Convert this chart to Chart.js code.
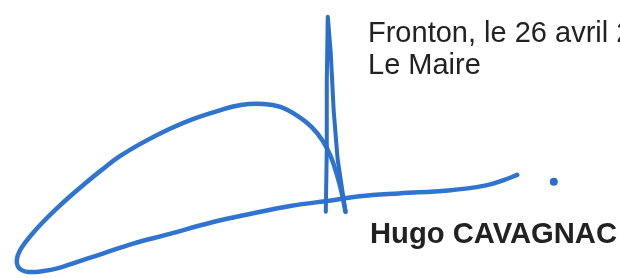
<!DOCTYPE html>
<html lang="fr">
<head>
<meta charset="utf-8">
<script src="https://cdn.jsdelivr.net/npm/chart.js@4/dist/chart.umd.min.js"></script>
<style>
  html, body { margin: 0; padding: 0; background: #fff; overflow: hidden; }
  #page { position: relative; width: 620px; height: 278px; overflow: hidden; }
  #sig { position: absolute; left: 0; top: 0; }
  .txt {
    position: absolute; left: 368px; margin: 0; white-space: nowrap;
    font-family: "Liberation Sans", Arial, sans-serif; color: #222;
    line-height: 1;
  }
  #lieu { top: 18px; font-size: 29px; }
  #titre { top: 50px; font-size: 29px; }
  #nom { top: 219px; left: 370px; font-size: 29.2px; font-weight: bold; }
</style>
</head>
<body>
<div id="page">
  <canvas id="sig" width="620" height="278"></canvas>
  <p class="txt" id="lieu"></p>
  <p class="txt" id="titre"></p>
  <p class="txt" id="nom"></p>
</div>
<script>
// textes
const lieuDate = 'Fronton, le 26 avril 2025';
const fonction = 'Le Maire';
const signataire = 'Hugo CAVAGNAC';

// trait vertical (monte puis redescend)
const jambageX = [326, 327, 327, 328, 331, 334, 338, 346];
const jambageY = [214, 150, 80, 13, 50, 110, 160, 214];

// boucle + trait de base
const boucleX = [346, 342, 337, 331, 323, 312, 297, 280, 263, 240, 217, 190, 167, 140, 117, 100, 83, 67, 53, 40, 30, 22, 16, 13, 14, 18, 25, 40, 55, 70, 85, 100, 130, 167, 210, 250, 290, 333, 360, 400, 450, 487, 507, 520];
const boucleY = [214, 194, 175, 157, 141, 127, 115, 106, 103, 104, 110, 119, 129, 143, 157, 170, 184, 198, 211, 224, 235, 245, 254, 263, 270, 274, 276, 275, 272, 267, 262, 257, 247, 237, 225, 216, 208, 202, 198, 195, 192, 187, 181, 176];

// point final
const pointX = [557];
const pointY = [183];

const bleu = '#2b6ecb';

function points(xs, ys) {
    return xs.map((x, i) => ({ x: x, y: ys[i] }));
}

document.getElementById('lieu').textContent = lieuDate;
document.getElementById('titre').textContent = fonction;
document.getElementById('nom').textContent = signataire;

new Chart(document.getElementById('sig'), {
    type: 'scatter',
    data: {
        datasets: [
            {
                label: 'jambage',
                data: points(jambageX, jambageY),
                showLine: true,
                borderColor: bleu,
                borderWidth: 4,
                pointRadius: 0,
                tension: 0,
                borderCapStyle: 'round',
                borderJoinStyle: 'round',
                clip: false
            },
            {
                label: 'boucle',
                data: points(boucleX, boucleY),
                showLine: true,
                borderColor: '#2f74cf',
                borderWidth: 4.5,
                pointRadius: 0,
                tension: 0.4,
                borderCapStyle: 'round',
                borderJoinStyle: 'round',
                clip: false
            },
            {
                label: 'point',
                data: points(pointX, pointY),
                showLine: false,
                backgroundColor: bleu,
                borderWidth: 0,
                pointRadius: 4,
                clip: false
            }
        ]
    },
    options: {
        responsive: false,
        animation: false,
        devicePixelRatio: 1,
        layout: { padding: 0 },
        scales: {
            x: { type: 'linear', min: 0, max: 620, display: false },
            y: { type: 'linear', min: 0, max: 278, reverse: true, display: false }
        },
        plugins: {
            legend: { display: false },
            tooltip: { enabled: false }
        }
    }
});
</script>
</body>
</html>
